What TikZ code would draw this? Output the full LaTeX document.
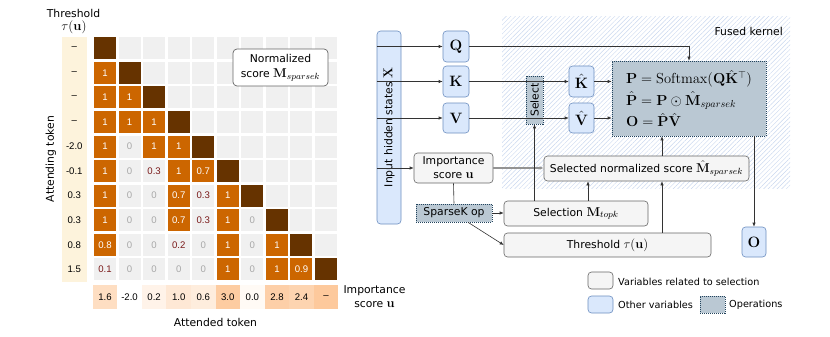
\RequirePackage{fix-cm}
\documentclass[tikz,border=0pt]{standalone}
\usepackage[no-math]{fontspec}
\setmainfont{DejaVu Sans}
\newfontfamily\numfont{Liberation Sans}
\usetikzlibrary{arrows.meta,patterns.meta,calc}
\definecolor{diagc}{HTML}{663300}
\definecolor{orangec}{HTML}{CC6600}
\definecolor{grayc}{HTML}{F0F0F0}
\definecolor{zeroc}{HTML}{A8A8A8}
\definecolor{redc}{HTML}{7A1A1A}
\definecolor{creamc}{HTML}{FDF3DC}
\definecolor{peach}{HTML}{FDC99C}
\definecolor{bluef}{HTML}{DAE8FC}
\definecolor{blued}{HTML}{6C8EBF}
\definecolor{grayf}{HTML}{F5F5F5}
\definecolor{grayd}{HTML}{666666}
\definecolor{opf}{HTML}{BAC8D3}
\definecolor{opd}{HTML}{23445D}
\definecolor{linec}{HTML}{333333}
\definecolor{hatchc}{HTML}{C9D7EE}
\newcommand\mth[1]{{\fontsize{12.8}{13}\selectfont$#1$}}
\newcommand\matrow[2]{%
  \foreach \t/\v [count=\c] in {#2} {%
    \node[cell\t] (m-#1-\c) at ({105+(\c-1)*24.56},{48.3+(#1-1)*24.56}) {\v};}%
  \ifnum#1<10
    \pgfmathtruncatemacro\nx{#1+1}%
    \foreach \c in {\nx,...,10} {%
      \node[cellE] (m-#1-\c) at ({105+(\c-1)*24.56},{48.3+(#1-1)*24.56}) {};}%
  \fi}
\begin{document}
\begin{tikzpicture}[x=1pt,y=-1pt,
  lbl/.style={font=\fontsize{10.8}{13}\selectfont, inner sep=0pt},
  cellbase/.style={minimum width=22pt, minimum height=22pt, inner sep=0pt, font=\numfont\fontsize{9.6}{11}\selectfont},
  cellD/.style={cellbase, fill=diagc},
  cellO/.style={cellbase, fill=orangec, text=white},
  cellZ/.style={cellbase, fill=grayc, text=zeroc},
  cellR/.style={cellbase, fill=grayc, text=redc},
  cellE/.style={cellbase, fill=grayc},
  numtxt/.style={inner sep=0pt, font=\numfont\fontsize{9.6}{11}\selectfont},
  bluebox/.style={draw=blued, fill=bluef, line width=0.6pt, rounded corners=3.5pt, inner sep=0pt, font=\fontsize{10.8}{13}\selectfont},
  mathbox/.style={bluebox, font=\fontsize{15}{16}\selectfont},
  graybox/.style={draw=grayd, fill=grayf, line width=0.6pt, rounded corners=3.5pt, inner sep=0pt, font=\fontsize{10.8}{14}\selectfont, align=center},
  opbox/.style={draw=opd, fill=opf, line width=0.6pt, dash pattern=on 1pt off 1pt, inner sep=0pt, font=\fontsize{10.8}{13}\selectfont},
  legtxt/.style={anchor=west, inner sep=0pt, font=\fontsize{9.7}{12}\selectfont},
  conn/.style={draw=linec, line width=0.6pt},
  arr/.style={conn, -{Latex[length=4pt,width=3.4pt]}},
]
\useasboundingbox (0,0) rectangle (830,337);

% ---------------- left: matrix ----------------
\node[lbl] (thrlab) at (73.5,13) {Threshold};
\node[lbl, font=\fontsize{13}{14}\selectfont] (thrtau) at (74,27) {$\tau(\mathbf{u})$};
\node[fill=creamc, minimum width=24.7pt, minimum height=245pt, inner sep=0pt] (thrcol) at (74.3,159.5) {};
\foreach \v [count=\r] in {–,–,–,–,-2.0,-0.1,0.3,0.3,0.8,1.5} {
  \node[numtxt] (t-\r) at (74.3,{48.3+(\r-1)*24.56}) {\v};
}
\node[lbl, rotate=90] (attending) at (51,159) {Attending token};

\matrow{1}{D/{}}
\matrow{2}{O/1,D/{}}
\matrow{3}{O/1,O/1,D/{}}
\matrow{4}{O/1,O/1,O/1,D/{}}
\matrow{5}{O/1,Z/0,O/1,O/1,D/{}}
\matrow{6}{O/1,Z/0,R/0.3,O/1,O/0.7,D/{}}
\matrow{7}{O/1,Z/0,Z/0,O/0.7,R/0.3,O/1,D/{}}
\matrow{8}{O/1,Z/0,Z/0,O/0.7,R/0.3,O/1,Z/0,D/{}}
\matrow{9}{O/0.8,Z/0,Z/0,R/0.2,Z/0,O/1,Z/0,O/1,D/{}}
\matrow{10}{R/0.1,Z/0,Z/0,Z/0,Z/0,O/1,Z/0,O/1,O/0.9,D/{}}

\foreach \v/\p [count=\c] in {1.6/62,-2.0/0,0.2/22,1.0/42,0.6/34,3.0/95,0.0/10,2.8/88,2.4/80,–/100} {
  \node[numtxt, fill=peach!\p!white, minimum width=24.6pt, minimum height=24pt] (u-\c) at ({105+(\c-1)*24.56},297) {\v};
}
\node[lbl] (attended) at (215.5,322) {Attended token};
\node[lbl, align=center, font=\fontsize{10.8}{14}\selectfont] (implab) at (374.5,297) {Importance\\score \mth{\mathbf{u}}};

\node[draw=grayd, fill=white, line width=0.7pt, rounded corners=4pt, minimum width=95pt, minimum height=37pt, inner sep=0pt, align=center, font=\fontsize{10.8}{15}\selectfont] (normlab) at (280.5,67.5) {Normalized\\score \mth{\mathbf{M}_{sparsek}}};

% ---------------- right: pipeline ----------------
\node[pattern={Lines[angle=45,distance=3.2pt,line width=0.45pt]}, pattern color=hatchc, minimum width=288pt, minimum height=171pt, inner sep=0pt] (fusedregion) at (646,102.5) {};
\node[lbl, anchor=east] (fusedlab) at (783,31) {Fused kernel};

\node[bluebox, rotate=90, minimum width=193pt, minimum height=24pt] (inp) at (389,127.5) {Input hidden states \mth{\mathbf{X}}};
\node[mathbox, minimum width=26pt, minimum height=31pt] (Q) at (456,46.5) {$\mathbf{Q}$};
\node[mathbox, minimum width=26pt, minimum height=31pt] (K) at (456,81.5) {$\mathbf{K}$};
\node[mathbox, minimum width=26pt, minimum height=30pt] (V) at (456,118) {$\mathbf{V}$};
\node[opbox, rotate=90, minimum width=48pt, minimum height=17pt] (selop) at (534.5,100) {Select};
\node[mathbox, minimum width=25pt, minimum height=31pt] (Kh) at (581.5,81.5) {$\hat{\mathbf{K}}$};
\node[mathbox, minimum width=25pt, minimum height=30pt] (Vh) at (581.5,118) {$\hat{\mathbf{V}}$};
\node[opbox, minimum width=154pt, minimum height=75pt, align=left, font=\fontsize{14.5}{21.5}\selectfont] (fused) at (689,98.5)
  {$\mathbf{P}=\mathrm{Softmax}(\mathbf{Q}\hat{\mathbf{K}}^{\top})$\\
   $\hat{\mathbf{P}}=\mathbf{P}\odot\hat{\mathbf{M}}_{sparsek}$\\
   $\mathbf{O}=\hat{\mathbf{P}}\hat{\mathbf{V}}$};
\node[mathbox, minimum width=24pt, minimum height=30pt] (O) at (754,242) {$\mathbf{O}$};

\node[graybox, minimum width=79pt, minimum height=30pt] (imp) at (453.5,168) {Importance\\score \mth{\mathbf{u}}};
\node[graybox, minimum width=205pt, minimum height=25pt] (msel) at (646.5,168.5) {Selected normalized score \mth{\hat{\mathbf{M}}_{sparsek}}};
\node[opbox, minimum width=76pt, minimum height=18pt] (skop) at (454,213) {SparseK op};
\node[graybox, minimum width=144pt, minimum height=25pt] (mtopk) at (576,213.5) {Selection \mth{\mathbf{M}_{topk}}};
\node[graybox, minimum width=207pt, minimum height=24pt] (thr) at (607.5,245) {Threshold \mth{\tau(\mathbf{u})}};

\coordinate (cx) at (662,0);
\coordinate (tx) at (588,0);

\draw[arr] (Q -| inp.north) -- (Q.west);
\draw[arr] (K -| inp.north) -- (K.west);
\draw[arr] (V -| inp.north) -- (V.west);
\draw[arr] (imp -| inp.north) -- (imp.west);
\draw[arr] (Q.east) -| (fused.north);
\draw[conn] (K.east) -- (K -| selop.south);
\draw[conn] (V.east) -- (V -| selop.south);
\draw[arr] (Kh -| selop.north) -- (Kh.west);
\draw[arr] (Vh -| selop.north) -- (Vh.west);
\draw[arr] (Kh.east) -- (Kh -| fused.west);
\draw[arr] (Vh.east) -- (Vh -| fused.west);
\draw[arr] (fused.south -| O) -- (O.north);
\draw[draw=gray!85, line width=1.1pt, -{Latex[length=4pt,width=3.6pt]}] (imp.east) -- (imp.east -| msel.west);
\draw[arr] (mtopk.north -| selop) -- (selop.west);
\draw[conn] (imp.south) -- (skop.north);
\draw[arr] (skop.east) -- (skop -| mtopk.west);
\draw[arr] ([xshift=14pt]skop.south) -- (thr.west);
\draw[arr] (mtopk.north -| tx) -- (msel.south -| tx);
\draw[arr] (thr.north -| cx) -- (msel.south -| cx);
\draw[arr] (msel.north -| cx) -- (fused.south -| cx);

% ---------------- legend ----------------
\node[graybox, minimum width=25pt, minimum height=17pt] (lg1) at (600.5,280.5) {};
\node[legtxt] (lg1t) at (618,281.5) {Variables related to selection};
\node[bluebox, minimum width=25pt, minimum height=17pt] (lg2) at (600.5,304.5) {};
\node[legtxt] (lg2t) at (618,305) {Other variables};
\node[opbox, minimum width=25pt, minimum height=17pt] (lg3) at (712.5,304.5) {};
\node[legtxt] (lg3t) at (729,305) {Operations};
\end{tikzpicture}
\end{document}
